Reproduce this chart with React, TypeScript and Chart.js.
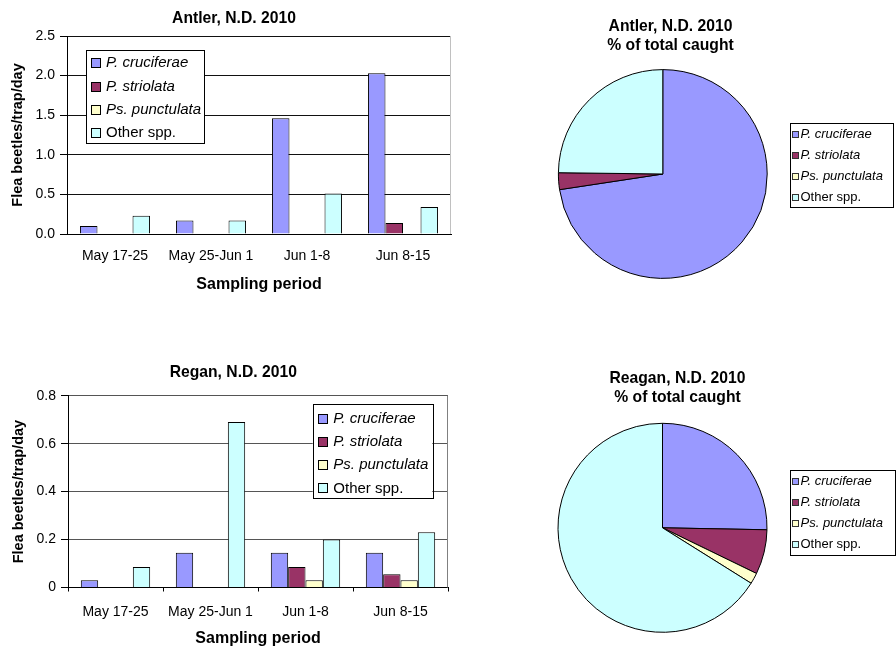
import React, { useEffect, useRef } from 'react';
import { Chart, registerables } from 'chart.js';

Chart.register(...registerables);

const FONT = "'Liberation Sans', Arial, Helvetica, sans-serif";
Chart.defaults.font.family = FONT;
Chart.defaults.color = '#000';

// ---------------- data ----------------
const categories = ['May 17-25', 'May 25-Jun 1', 'Jun 1-8', 'Jun 8-15'];
const species = ['P. cruciferae', 'P. striolata', 'Ps. punctulata', 'Other spp.'];
const speciesItalic = [true, true, true, false];
const speciesColors = ['#9999FF', '#993366', '#FFFFCC', '#CCFFFF'];

const antlerCruciferae = [0.1, 0.17, 1.46, 2.03];
const antlerStriolata = [0, 0, 0, 0.14];
const antlerPunctulata = [0, 0, 0, 0];
const antlerOther = [0.23, 0.17, 0.51, 0.34];

const reganCruciferae = [0.03, 0.145, 0.145, 0.145];
const reganStriolata = [0, 0, 0.085, 0.055];
const reganPunctulata = [0, 0, 0.03, 0.03];
const reganOther = [0.085, 0.69, 0.2, 0.23];

const antlerPiePercent = [72.6, 2.6, 0, 24.8];
const reganPiePercent = [25.3, 6.9, 1.7, 66.1];

const antlerYTicks = ['0.0', '0.5', '1.0', '1.5', '2.0', '2.5'];
const reganYTicks = ['0', '0.2', '0.4', '0.6', '0.8'];

// ---------------- plugins ----------------
const textPlugin = {
  id: 'texts',
  afterDraw(chart: any, _a: any, opts: any) {
    const ctx = chart.ctx;
    ctx.save();
    ctx.fillStyle = '#000';
    ctx.textAlign = 'center';
    ctx.textBaseline = 'middle';
    for (const it of opts.items || []) {
      ctx.font = `${it.bold ? 'bold ' : ''}${it.size}px ${FONT}`;
      ctx.fillText(it.text, it.x, it.y);
    }
    ctx.restore();
  },
};

const boxLegendPlugin = {
  id: 'boxLegend',
  afterDraw(chart: any, _a: any, o: any) {
    if (!o || !o.labels) return;
    const ctx = chart.ctx;
    ctx.save();
    ctx.fillStyle = '#fff';
    ctx.fillRect(o.x, o.y, o.w, o.h);
    ctx.strokeStyle = '#000';
    ctx.lineWidth = 1;
    ctx.strokeRect(Math.round(o.x) + 0.5, Math.round(o.y) + 0.5, Math.round(o.w), Math.round(o.h));
    o.labels.forEach((lab: string, i: number) => {
      const cy = o.row0 + i * o.step;
      const sx = Math.round(o.sqX) + 0.5;
      const sy = Math.round(cy - o.sq / 2) + 0.5;
      ctx.fillStyle = o.colors[i];
      ctx.fillRect(sx, sy, o.sq, o.sq);
      ctx.strokeStyle = o.sqBorder || '#000';
      ctx.strokeRect(sx, sy, o.sq, o.sq);
      ctx.fillStyle = '#000';
      ctx.font = `${o.italic[i] ? 'italic ' : ''}${o.size}px ${FONT}`;
      ctx.textAlign = 'left';
      ctx.textBaseline = 'middle';
      ctx.fillText(lab, o.textX, cy + 0.5);
    });
    ctx.restore();
  },
};

const framePlugin = {
  id: 'frameRight',
  beforeDatasetsDraw(chart: any, _a: any, o: any) {
    if (!o || !o.color) return;
    const { ctx, chartArea } = chart;
    const x = Math.round(chartArea.right) - 0.5;
    ctx.save();
    ctx.strokeStyle = o.color;
    ctx.lineWidth = 1;
    ctx.beginPath();
    ctx.moveTo(x, chartArea.top);
    ctx.lineTo(x, chartArea.bottom);
    ctx.stroke();
    ctx.restore();
  },
};

// ---------------- config builders ----------------
type BarOpts = {
  series: number[][];
  W: number;
  H: number;
  area: { left: number; right: number; top: number; bottom: number };
  yMax: number;
  yStep: number;
  yTicks: string[];
  gridColor: string;
  frameColor: string;
  xTicks: boolean;
  xPad: number;
  xTitlePad: number;
  yTitlePad: number;
  title: { text: string; x: number; y: number };
  legend: any;
};

function barConfig(o: BarOpts): any {
  return {
    type: 'bar',
    data: {
      labels: categories,
      datasets: species.map((s, i) => ({
        label: s,
        data: o.series[i],
        backgroundColor: speciesColors[i],
        borderColor: '#000',
        borderWidth: 1,
        categoryPercentage: 0.73,
        barPercentage: 1.0,
      })),
    },
    options: {
      responsive: false,
      animation: false,
      events: [],
      layout: { padding: { left: 0, right: o.W - o.area.right, top: o.area.top, bottom: 0 } },
      plugins: {
        legend: { display: false },
        tooltip: { enabled: false },
        title: { display: false },
        texts: { items: [{ text: o.title.text, x: o.title.x, y: o.title.y, size: 15.7, bold: true }] },
        boxLegend: o.legend,
        frameRight: { color: o.frameColor },
      },
      scales: {
        x: {
          type: 'category',
          offset: true,
          grid: {
            display: o.xTicks,
            drawOnChartArea: false,
            drawTicks: o.xTicks,
            tickLength: 4,
            color: '#000',
            offset: true,
          },
          border: { display: true, color: '#000', width: 1 },
          ticks: {
            color: '#000',
            font: { family: FONT, size: 14 },
            padding: o.xPad,
            maxRotation: 0,
            autoSkip: false,
          },
          title: {
            display: true,
            text: 'Sampling period',
            color: '#000',
            font: { family: FONT, size: 16, weight: 'bold' },
            padding: { top: 0, bottom: o.xTitlePad },
          },
          afterFit: (s: any) => {
            s.height = o.H - o.area.bottom;
          },
        },
        y: {
          min: 0,
          max: o.yMax,
          ticks: {
            stepSize: o.yStep,
            color: '#000',
            font: { family: FONT, size: 14 },
            padding: 5,
            callback: (_v: any, i: number) => o.yTicks[i],
          },
          grid: {
            color: o.gridColor,
            lineWidth: 1,
            drawTicks: true,
            tickLength: 7,
            tickColor: '#000',
          },
          border: { display: true, color: '#000', width: 1 },
          title: {
            display: true,
            text: 'Flea beetles/trap/day',
            color: '#000',
            font: { family: FONT, size: 14.5, weight: 'bold' },
            padding: { top: o.yTitlePad, bottom: 0 },
          },
          afterFit: (s: any) => {
            s.width = o.area.left;
          },
        },
      },
    },
    plugins: [textPlugin, boxLegendPlugin, framePlugin],
  };
}

type PieOpts = {
  values: number[];
  W: number;
  H: number;
  cx: number;
  cy: number;
  radius: number;
  titles: { text: string; x: number; y: number }[];
  legend: any;
};

function pieConfig(o: PieOpts): any {
  const half = 112;
  return {
    type: 'pie',
    data: {
      labels: species,
      datasets: [
        {
          data: o.values,
          backgroundColor: speciesColors,
          borderColor: '#000',
          borderWidth: 1,
          radius: o.radius,
        },
      ],
    },
    options: {
      responsive: false,
      animation: false,
      events: [],
      layout: {
        padding: {
          left: o.cx - half,
          right: o.W - (o.cx + half),
          top: o.cy - half,
          bottom: o.H - (o.cy + half),
        },
      },
      plugins: {
        legend: { display: false },
        tooltip: { enabled: false },
        texts: { items: o.titles.map((t) => ({ ...t, size: 15.7, bold: true })) },
        boxLegend: o.legend,
      },
    },
    plugins: [textPlugin, boxLegendPlugin],
  };
}

// ---------------- components ----------------
function ChartCanvas(props: { left: number; top: number; width: number; height: number; make: () => any }) {
  const ref = useRef<HTMLCanvasElement>(null);
  useEffect(() => {
    const chart = new Chart(ref.current as HTMLCanvasElement, props.make());
    return () => chart.destroy();
  }, []);
  return (
    <canvas
      ref={ref}
      width={props.width}
      height={props.height}
      style={{ position: 'absolute', left: props.left, top: props.top, width: props.width, height: props.height }}
    />
  );
}

const antlerBar = () =>
  barConfig({
    series: [antlerCruciferae, antlerStriolata, antlerPunctulata, antlerOther],
    W: 460,
    H: 300,
    area: { left: 67, right: 451, top: 36, bottom: 234 },
    yMax: 2.5,
    yStep: 0.5,
    yTicks: antlerYTicks,
    gridColor: '#111',
    frameColor: '#c0c0c0',
    xTicks: false,
    xPad: 14,
    xTitlePad: 5.4,
    yTitlePad: 9,
    title: { text: 'Antler, N.D. 2010', x: 234, y: 18.3 },
    legend: {
      x: 86,
      y: 50,
      w: 118,
      h: 93,
      row0: 62.7,
      step: 23.3,
      sqX: 90.5,
      sq: 9,
      textX: 106,
      size: 15,
      labels: species,
      colors: speciesColors,
      italic: speciesItalic,
    },
  });

const reganBar = () =>
  barConfig({
    series: [reganCruciferae, reganStriolata, reganPunctulata, reganOther],
    W: 460,
    H: 293,
    area: { left: 68, right: 448, top: 40.7, bottom: 232.5 },
    yMax: 0.8,
    yStep: 0.2,
    yTicks: reganYTicks,
    gridColor: '#555',
    frameColor: '#808080',
    xTicks: true,
    xPad: 11.8,
    xTitlePad: 0,
    yTitlePad: 10,
    title: { text: 'Regan, N.D. 2010', x: 233.3, y: 17.5 },
    legend: {
      x: 312.7,
      y: 49.3,
      w: 119.6,
      h: 94,
      row0: 63.3,
      step: 23.2,
      sqX: 318.3,
      sq: 9,
      textX: 333.3,
      size: 15,
      labels: species,
      colors: speciesColors,
      italic: speciesItalic,
    },
  });

const antlerPie = () =>
  pieConfig({
    values: antlerPiePercent,
    W: 436,
    H: 300,
    cx: 202.8,
    cy: 174,
    radius: 104.4,
    titles: [
      { text: 'Antler, N.D. 2010', x: 210.5, y: 26.5 },
      { text: '% of total caught', x: 210.5, y: 45.7 },
    ],
    legend: {
      x: 330,
      y: 123,
      w: 103,
      h: 84,
      row0: 133.5,
      step: 21,
      sqX: 332.3,
      sq: 6,
      sqBorder: '#333',
      textX: 340.5,
      size: 13,
      labels: species,
      colors: speciesColors,
      italic: speciesItalic,
    },
  });

const reganPie = () =>
  pieConfig({
    values: reganPiePercent,
    W: 436,
    H: 293,
    cx: 202.5,
    cy: 172.8,
    radius: 104.5,
    titles: [
      { text: 'Reagan, N.D. 2010', x: 217.5, y: 23.3 },
      { text: '% of total caught', x: 217.5, y: 42.5 },
    ],
    legend: {
      x: 330,
      y: 115,
      w: 105,
      h: 85,
      row0: 126,
      step: 21,
      sqX: 332.3,
      sq: 6,
      sqBorder: '#333',
      textX: 340.5,
      size: 13,
      labels: species,
      colors: speciesColors,
      italic: speciesItalic,
    },
  });

export default function App() {
  return (
    <div
      style={{
        position: 'absolute',
        left: 0,
        top: 0,
        width: 896,
        height: 648,
        background: '#fff',
        overflow: 'hidden',
      }}
    >
      <ChartCanvas left={0} top={0} width={460} height={300} make={antlerBar} />
      <ChartCanvas left={460} top={0} width={436} height={300} make={antlerPie} />
      <ChartCanvas left={0} top={355} width={460} height={293} make={reganBar} />
      <ChartCanvas left={460} top={355} width={436} height={293} make={reganPie} />
    </div>
  );
}
